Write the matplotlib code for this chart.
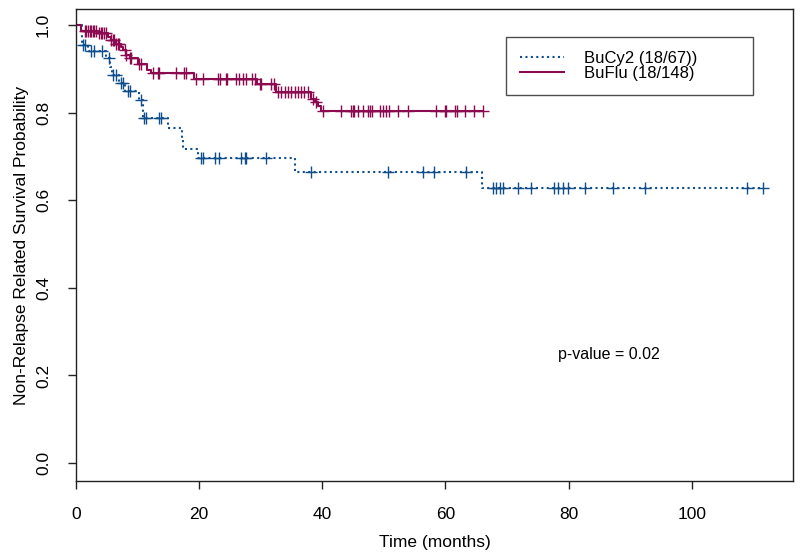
import numpy as np
import matplotlib
matplotlib.use('Agg')
import matplotlib.pyplot as plt

plt.rcParams['font.family'] = ['Liberation Sans', 'DejaVu Sans']

# BuCy2 (n=67): event times (months) and survival after each step
bucy_times = [1.0, 1.9, 4.9, 5.6, 5.8, 7.0, 8.0, 10.2, 10.8, 10.9, 14.9, 17.2, 17.4, 19.8, 35.5, 66.0]
bucy_surv = [0.955, 0.940, 0.924, 0.905, 0.886, 0.869, 0.849, 0.829, 0.808, 0.787, 0.764, 0.741, 0.718, 0.696, 0.664, 0.628]
bucy_cens = [1.2, 1.4, 2.4, 3.0, 4.3, 5.4, 6.0, 6.5, 7.3, 7.6, 8.4, 8.7, 10.6, 11.1, 11.4,
             13.5, 13.8, 20.3, 20.6, 22.5, 23.3, 26.8, 27.4, 27.6, 30.9, 38.2, 50.7, 56.3,
             58.2, 63.4, 67.7, 68.2, 68.8, 69.3, 71.8, 73.9, 77.7, 78.3, 79.1, 79.9, 82.6,
             87.2, 92.4, 108.9, 111.6]

# BuFlu (n=148)
buflu_times = [0.8, 3.5, 5.2, 5.7, 6.4, 7.3, 7.6, 8.1, 8.7, 10.0, 11.6, 12.2, 19.2, 29.4, 32.5, 38.2, 38.8, 39.3, 39.8]
buflu_surv = [0.987, 0.981, 0.973, 0.966, 0.958, 0.950, 0.943, 0.932, 0.924, 0.912, 0.897, 0.890,
              0.878, 0.865, 0.848, 0.832, 0.824, 0.815, 0.803]
buflu_cens = [1.4, 1.6, 1.9, 2.2, 2.4, 2.7, 3.0, 3.3, 3.8, 4.1, 4.3, 4.6, 4.9, 5.75, 5.97, 6.2,
              6.5, 6.8, 7.05, 7.9, 8.2, 8.75, 8.95, 10.3, 10.6, 12.5, 13.3, 13.5, 16.3, 17.6,
              17.9, 19.5, 20.6, 23.0, 23.4, 24.4, 24.6, 26.0, 26.4, 27.1, 27.6, 28.5, 29.0,
              29.8, 30.1, 31.7, 32.2, 32.8, 33.3, 33.9, 34.4, 34.9, 35.5, 36.0, 36.6, 37.1,
              37.7, 38.5, 39.0, 40.1, 43.1, 44.7, 45.0, 45.2, 45.8, 46.6, 47.4, 47.7, 48.0,
              49.3, 49.8, 50.4, 50.9, 52.3, 53.9, 58.5, 59.9, 60.1, 61.5, 61.8, 63.1, 64.7, 66.1]

blue = '#104E8B'
red = '#8B0A50'


def km_curve(times, surv, cens):
    t = np.concatenate([[0.0], times, [max(cens)]])
    s = np.concatenate([[1.0], surv, [surv[-1]]])
    idx = np.searchsorted(t[:-1], cens, side='right') - 1
    return t, s, np.asarray(cens), s[idx]


fig = plt.figure(figsize=(8, 5.59), dpi=100)
ax = fig.add_axes([0.095, 0.1395, 0.896, 0.8445])

t, s, ct, cs = km_curve(bucy_times, bucy_surv, bucy_cens)
ax.step(t, s, where='post', color=blue, lw=1.5, linestyle=(0, (1, 1.6)),
        label='BuCy2 (18/67))')
ax.plot(ct, cs, '+', color=blue, ms=8, mew=1.0)

t, s, ct, cs = km_curve(buflu_times, buflu_surv, buflu_cens)
ax.step(t, s, where='post', color=red, lw=1.5, label='BuFlu (18/148)')
ax.plot(ct, cs, '+', color=red, ms=8, mew=1.0)

ax.text(78.2, 0.247, 'p-value = 0.02', fontsize=11.5, va='center', ha='left')

ax.set_xlim(0, 116.4)
ax.set_ylim(-0.041, 1.037)
ax.set_xticks([0, 20, 40, 60, 80, 100])
ax.set_yticks([0.0, 0.2, 0.4, 0.6, 0.8, 1.0])
ax.set_yticklabels(['0.0', '0.2', '0.4', '0.6', '0.8', '1.0'])
ax.tick_params(axis='both', direction='out', length=6, width=1, labelsize=12.5, color='#222222')
ax.tick_params(axis='x', pad=13)
ax.tick_params(axis='y', pad=12, labelrotation=90)
for lab in ax.get_yticklabels():
    lab.set_va('center')
for sp in ax.spines.values():
    sp.set_linewidth(1)
    sp.set_color('#222222')

ax.set_xlabel('Time (months)', fontsize=12.5)
ax.set_ylabel('Non-Relapse Related Survival Probability', fontsize=12.5)
ax.xaxis.set_label_coords(0.5, -0.115)
ax.yaxis.set_label_coords(-0.066, 0.5)

leg = ax.legend(loc='upper left', bbox_to_anchor=(0.6, 0.82, 0.3445, 0.1215), mode='expand',
                fontsize=12, frameon=True, fancybox=False, borderaxespad=0,
                handlelength=2.6, handletextpad=1.2, borderpad=0.85, labelspacing=0.0)
leg.get_frame().set_edgecolor('#222222')
leg.get_frame().set_linewidth(1)

fig.savefig('out.png', dpi=100)
